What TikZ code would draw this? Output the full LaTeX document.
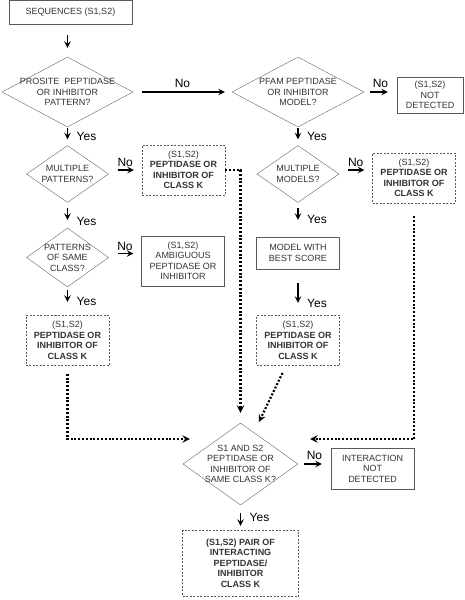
\documentclass[tikz,border=0pt]{standalone}
\usepackage{fontspec}
\setmainfont{Liberation Sans}
\usetikzlibrary{shapes.geometric, arrows, positioning}
\tikzstyle{outbox} = [rectangle, minimum width=83pt, minimum height=50pt, inner sep=1pt, text centered, draw=black!65, align=center]
\tikzstyle{kbox} = [outbox, dash pattern=on 2pt off 1.5pt]
\tikzstyle{decision} = [diamond, minimum width=82pt, minimum height=57pt, inner sep=-15pt, text centered, draw=black!60, align=center]
\tikzstyle{answer} = [font=\fontsize{12}{14}\selectfont, text=black]
\tikzstyle{arrow} = [line width=1.8pt,->,>=stealth]
\tikzstyle{dotline} = [line width=2.2pt, dash pattern=on 2pt off 1.8pt,->,>=stealth]

\begin{document}
\begin{tikzpicture}[node distance=82pt, every node/.style={font=\fontsize{9}{10.5}\selectfont, text=black!80}]
\useasboundingbox (-70.5pt,12.5pt) rectangle (393.5pt,-587.5pt);

\node (seq) [outbox, minimum width=123pt, minimum height=24pt] {SEQUENCES (S1,S2)};
\node (prosite) [decision, below of=seq, xshift=-3pt, yshift=2.5pt, minimum width=131pt, minimum height=70pt] {PROSITE~~PEPTIDASE\\OR INHIBITOR\\PATTERN?};
\node (pfam) [decision, right of=prosite, xshift=148.5pt, minimum width=132pt, minimum height=70pt] {PFAM PEPTIDASE\\OR INHIBITOR\\MODEL?};
\node (notdet) [outbox, right of=pfam, xshift=50pt, yshift=-3pt, minimum width=66pt, minimum height=36pt] {(S1,S2)\\NOT\\DETECTED};

\node (mpat) [decision, below of=prosite] {MULTIPLE\\PATTERNS?};
\node (kpat) [kbox, right of=mpat, xshift=34pt, yshift=4pt] {(S1,S2)\\\textbf{PEPTIDASE OR}\\\textbf{INHIBITOR OF}\\\textbf{CLASS K}};

\node (mmod) [decision, below of=pfam] {MULTIPLE\\MODELS?};
\node (kmod) [kbox, right of=mmod, xshift=34pt, yshift=-4pt] {(S1,S2)\\\textbf{PEPTIDASE OR}\\\textbf{INHIBITOR OF}\\\textbf{CLASS K}};

\node (same) [decision, below of=mpat, yshift=-1.5pt, minimum height=59pt] {PATTERNS\\OF SAME\\CLASS?};
\node (amb) [outbox, right of=same, xshift=33.5pt, yshift=-3.5pt] {(S1,S2)\\AMBIGUOUS\\PEPTIDASE OR\\INHIBITOR};

\node (best) [outbox, below of=mmod, yshift=3pt, minimum height=32pt] {MODEL WITH\\BEST SCORE};

\node (kpatfin) [kbox, below of=same, yshift=-1pt] {(S1,S2)\\\textbf{PEPTIDASE OR}\\\textbf{INHIBITOR OF}\\\textbf{CLASS K}};
\node (kbest) [kbox, below of=best, yshift=-5.5pt] {(S1,S2)\\\textbf{PEPTIDASE OR}\\\textbf{INHIBITOR OF}\\\textbf{CLASS K}};

\node (final) [decision, below of=kbest, xshift=-57.5pt, yshift=-41.5pt, minimum width=115pt, minimum height=82pt] {S1 AND S2\\PEPTIDASE OR\\INHIBITOR OF\\SAME CLASS K?};
\node (intnd) [outbox, right of=final, xshift=50pt, yshift=-4.5pt, minimum height=41pt] {INTERACTION\\NOT\\DETECTED};
\node (pair) [kbox, below of=final, yshift=-17pt, minimum width=116pt, minimum height=66pt] {\textbf{(S1,S2) PAIR OF}\\\textbf{INTERACTING}\\\textbf{PEPTIDASE/}\\\textbf{INHIBITOR}\\\textbf{CLASS K}};

\draw [arrow, shorten <=10.5pt, shorten >=9pt] (seq.south -| prosite.north) -- (prosite.north);
\draw [arrow, shorten <=9pt, shorten >=7pt] (prosite.east) -- node [answer, above] {No} (pfam.west);
\draw [arrow, shorten <=6pt, shorten >=9pt] (pfam.east) -- node [answer, above] {No} (pfam.east -| notdet.west);

\draw [arrow, shorten <=1pt, shorten >=6pt] (prosite.south) -- node [answer, right=5pt] {Yes} (mpat.north);
\draw [arrow, shorten <=9pt, shorten >=8pt] ([yshift=4pt]mpat.east) -- node [answer, above=-1pt] {No} ([yshift=4pt]mpat.east -| kpat.west);
\draw [arrow, shorten <=5pt, shorten >=8pt] (mpat.south) -- node [answer, right=5pt, near end] {Yes} (same.north);
\draw [arrow, shorten <=9pt, shorten >=8pt] ([yshift=4pt]same.east) -- node [answer, above=-1pt] {No} ([yshift=4pt]same.east -| amb.west);
\draw [arrow, shorten <=3pt, shorten >=13.5pt] (same.south) -- node [answer, right=5pt] {Yes} (kpatfin.north);

\draw [arrow, shorten <=1pt, shorten >=6pt] (pfam.south) -- node [answer, right=5pt] {Yes} (mmod.north);
\draw [arrow, shorten <=9pt, shorten >=8pt] ([yshift=4pt]mmod.east) -- node [answer, above=-1pt] {No} ([yshift=4pt]mmod.east -| kmod.west);
\draw [arrow, shorten <=5.5pt, shorten >=17pt] (mmod.south) -- node [answer, right=5pt] {Yes} (best.north);
\draw [arrow, shorten <=14pt, shorten >=12.5pt] (best.south) -- node [answer, right=5pt, near end] {Yes} (kbest.north);

\draw [dotline, shorten >=10pt] (kpat.east) -| (final.north);
\draw [dotline, shorten <=8pt] (kpatfin.south) |- ([xshift=7pt, yshift=25pt]final.west);
\draw [dotline, shorten <=8pt, shorten >=1pt] ([xshift=-12pt]kbest.south) -- ([xshift=18pt]final.north);
\draw [dotline, shorten <=13pt] (kmod.south) |- ([xshift=12pt, yshift=25pt]final.east);

\draw [arrow, shorten <=6pt, shorten >=9pt] (final.east) -- node [answer, above] {No} (final.east -| intnd.west);
\draw [arrow, shorten <=8pt, shorten >=4pt] (final.south) -- node [answer, right=5pt] {Yes} (pair.north);

\end{tikzpicture}
\end{document}
